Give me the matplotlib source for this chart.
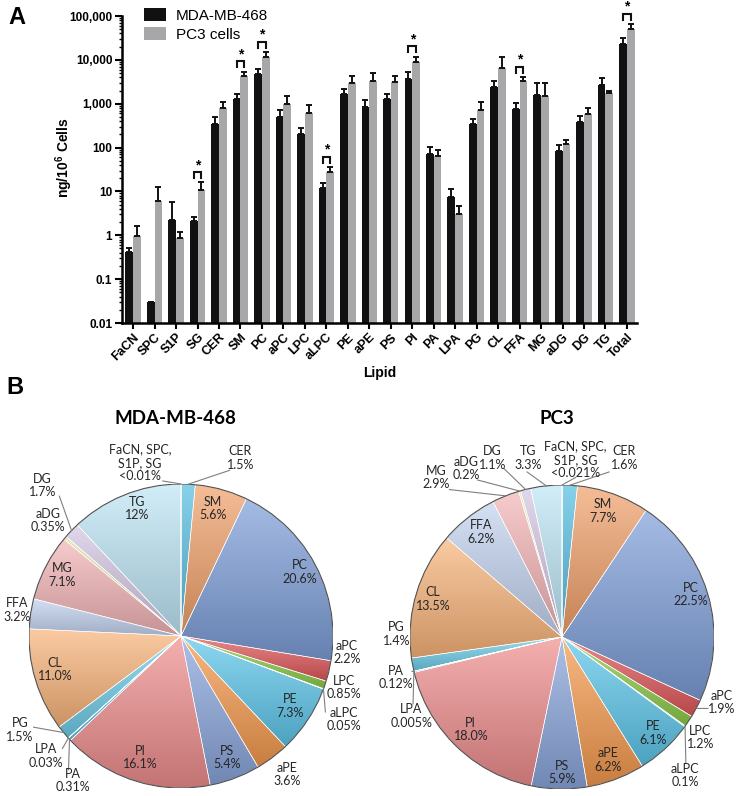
import numpy as np
import matplotlib
matplotlib.use("Agg")
import matplotlib.pyplot as plt
from matplotlib.colors import LinearSegmentedColormap, to_rgb
from matplotlib.ticker import FixedLocator, FixedFormatter, LogLocator, NullFormatter

plt.rcParams['font.family'] = ['Liberation Sans', 'DejaVu Sans']
plt.rcParams['mathtext.fontset'] = 'custom'
plt.rcParams['mathtext.bf'] = 'Liberation Sans:bold'
plt.rcParams['mathtext.rm'] = 'Liberation Sans:bold'

# ---- panel A data (ng / 10^6 cells) ----
lipids = ["FaCN", "SPC", "S1P", "SG", "CER", "SM", "PC", "aPC", "LPC", "aLPC", "PE", "aPE",
          "PS", "PI", "PA", "LPA", "PG", "CL", "FFA", "MG", "aDG", "DG", "TG", "Total"]
mda_vals = [0.41, 0.03, 2.2, 2.1, 350, 1300, 4700, 510, 200, 11.7, 1690, 860,
            1280, 3720, 73, 7.6, 340, 2450, 760, 1620, 83, 380, 2700, 22700]
mda_err = [0.1, 0, 3.4, 0.5, 150, 400, 1500, 195, 85, 4.2, 500, 370,
           410, 1450, 31, 3.9, 115, 850, 275, 1330, 34, 133, 1100, 8300]
pc3_vals = [0.95, 5.9, 0.85, 11, 810, 4300, 11500, 1000, 615, 28, 3030, 3230,
            3050, 9150, 63, 3.0, 725, 6680, 3230, 1470, 123, 572, 1740, 50000]
pc3_err = [0.65, 6.4, 0.32, 5, 300, 1100, 3400, 470, 335, 8, 1300, 1740,
           1150, 2750, 27, 1.6, 395, 5200, 760, 1480, 28, 223, 160, 16000]
star_lipids = ["SG", "SM", "PC", "aLPC", "PI", "FFA", "Total"]

ytick_vals = [0.01, 0.1, 1, 10, 100, 1000, 10000, 100000]
ytick_text = ["0.01", "0.1", "1", "10", "100", "1,000", "10,000", "100,000"]

# ---- panel B data (% of total lipid) ----
pie_names = ["FaCN, SPC,\nS1P, SG", "CER", "SM", "PC", "aPC", "LPC", "aLPC", "PE", "aPE", "PS",
             "PI", "PA", "LPA", "PG", "CL", "FFA", "MG", "aDG", "DG", "TG"]
mda_pct = [0.01, 1.5, 5.6, 20.6, 2.2, 0.85, 0.05, 7.3, 3.6, 5.4,
           16.1, 0.31, 0.03, 1.5, 11.0, 3.2, 7.1, 0.35, 1.7, 12]
mda_pct_text = ["<0.01%", "1.5%", "5.6%", "20.6%", "2.2%", "0.85%", "0.05%", "7.3%", "3.6%", "5.4%",
                "16.1%", "0.31%", "0.03%", "1.5%", "11.0%", "3.2%", "7.1%", "0.35%", "1.7%", "12%"]
pc3_pct = [0.02, 1.6, 7.7, 22.5, 1.9, 1.2, 0.1, 6.1, 6.2, 5.9,
           18.0, 0.12, 0.005, 1.4, 13.5, 6.2, 2.9, 0.2, 1.1, 3.3]
pc3_pct_text = ["<0.021%", "1.6%", "7.7%", "22.5%", "1.9%", "1.2%", "0.1%", "6.1%", "6.2%", "5.9%",
                "18.0%", "0.12%", "0.005%", "1.4%", "13.5%", "6.2%", "2.9%", "0.2%", "1.1%", "3.3%"]

wedge_colors = ["#4bacc6", "#55bde0", "#f0a06a", "#7d9ed8", "#e0585a", "#8ccc4a", "#b9a6d4",
                "#5cc6ea", "#f59a4e", "#8aa6dc", "#ef8d8d", "#5cc6ea", "#9bd15a", "#6fcde9",
                "#f9b47a", "#c3d3ef", "#f3b4b6", "#d5e59a", "#d4c6e3", "#bde5f5"]

# label placement (pie radius units) and leader-line start points
mda_label_pos = {
    "FaCN, SPC,\nS1P, SG": (-0.27, 1.14), "CER": (0.39, 1.17), "SM": (0.21, 0.84),
    "PC": (0.78, 0.42), "aPC": (1.09, -0.11), "LPC": (1.07, -0.34), "aLPC": (1.07, -0.55),
    "PE": (0.72, -0.46), "aPE": (0.70, -0.91), "PS": (0.30, -0.80), "PI": (-0.27, -0.80),
    "PA": (-0.71, -0.95), "LPA": (-0.89, -0.79), "PG": (-1.06, -0.62), "CL": (-0.83, -0.22),
    "FFA": (-1.08, 0.17), "MG": (-0.78, 0.40), "aDG": (-0.875, 0.76), "DG": (-0.91, 0.99),
    "TG": (-0.29, 0.84),
}
mda_leaders = {
    "FaCN, SPC,\nS1P, SG": (-0.12, 1.02), "CER": (0.32, 1.09), "DG": (-0.80, 0.92),
    "aLPC": (0.95, -0.50), "PA": (-0.74, -0.88), "LPA": (-0.78, -0.74), "PG": (-0.97, -0.60),
}
pc3_label_pos = {
    "FaCN, SPC,\nS1P, SG": (0.09, 1.166), "CER": (0.41, 1.179), "SM": (0.27, 0.83),
    "PC": (0.85, 0.28), "aPC": (1.05, -0.43), "LPC": (0.91, -0.66), "aLPC": (0.81, -0.91),
    "PE": (0.60, -0.63), "aPE": (0.30, -0.81), "PS": (0.0, -0.89), "PI": (-0.60, -0.61),
    "PA": (-1.09, -0.265), "LPA": (-0.99, -0.52), "PG": (-1.09, 0.02), "CL": (-0.85, 0.25),
    "FFA": (-0.53, 0.69), "MG": (-0.83, 1.05), "aDG": (-0.63, 1.11), "DG": (-0.457, 1.179),
    "TG": (-0.225, 1.179),
}
pc3_leaders = {
    "FaCN, SPC,\nS1P, SG": (0.09, 1.05), "CER": (0.31, 1.086), "TG": (-0.23, 1.086),
    "DG": (-0.38, 1.106), "aDG": (-0.556, 1.033), "MG": (-0.74, 0.97),
    "PA": (-0.987, -0.225), "LPA": (-0.98, -0.44), "aPC": (0.96, -0.47), "aLPC": (0.815, -0.83),
}

W, H = 737, 796
fig = plt.figure(figsize=(W / 100, H / 100), dpi=100)

# ================= panel A =================
ax = fig.add_axes([122 / W, 1 - 323 / H, 515 / W, 307 / H])
x = np.arange(len(lipids))
bw = 0.36
ax.bar(x - bw / 2, mda_vals, bw, color="#111111", label="MDA-MB-468",
       yerr=[np.zeros(len(x)), mda_err], error_kw=dict(ecolor="#111111", elinewidth=1.4, capsize=2.2, capthick=1.4))
ax.bar(x + bw / 2, pc3_vals, bw, color="#a7a7a9", label="PC3 cells",
       yerr=[np.zeros(len(x)), pc3_err], error_kw=dict(ecolor="#111111", elinewidth=1.4, capsize=2.2, capthick=1.4))

ax.set_yscale("log")
ax.set_ylim(0.01, 100000)
ax.set_xlim(-0.52, len(lipids) - 0.53)
ax.yaxis.set_major_locator(FixedLocator(ytick_vals))
ax.yaxis.set_major_formatter(FixedFormatter(ytick_text))
ax.yaxis.set_minor_locator(LogLocator(base=10, subs=np.arange(2, 10)))
ax.yaxis.set_minor_formatter(NullFormatter())
ax.set_xticks(x)
ax.set_xticklabels(lipids, rotation=45, ha="right", rotation_mode="anchor", fontweight="bold", fontsize=9)
for lab in ax.get_yticklabels():
    lab.set_fontweight("bold")
ax.tick_params(axis="y", which="major", length=5, width=1.5, labelsize=8.5, pad=2)
ax.tick_params(axis="y", which="minor", length=2.5, width=1.0)
ax.tick_params(axis="x", length=4, width=1.5, pad=2)
for s in ["top", "right"]:
    ax.spines[s].set_visible(False)
for s in ["left", "bottom"]:
    ax.spines[s].set_linewidth(1.8)

ax.set_ylabel(r"ng/10$^{\mathbf{6}}$ Cells", fontweight="bold", fontsize=10)
ax.yaxis.set_label_coords(-0.092, 0.54)
ax.set_xlabel("Lipid", fontweight="bold", fontsize=10)
ax.xaxis.set_label_coords(0.5, -0.14)

ax.legend(loc="upper left", bbox_to_anchor=(0.03, 1.045), frameon=False, fontsize=11,
          handlelength=1.5, handleheight=0.9, handletextpad=0.6, labelspacing=0.3, borderaxespad=0)

# significance brackets
for name in star_lipids:
    i = lipids.index(name)
    top = max(mda_vals[i] + mda_err[i], pc3_vals[i] + pc3_err[i])
    yb = top * 1.7
    ax.plot([i - bw / 2, i - bw / 2, i + bw / 2, i + bw / 2], [yb / 1.35, yb, yb, yb / 1.35],
            color="#111111", lw=1.5, solid_joinstyle="miter", clip_on=False)
    ax.text(i, yb * 1.02, "*", ha="center", va="bottom", fontsize=10, fontweight="bold")

fig.text(8 / W, 1 - 17 / H, "A", fontsize=17, fontweight="bold", va="center")
fig.text(6 / W, 1 - 388 / H, "B", fontsize=17, fontweight="bold", va="center")


# ================= panel B =================
def shade(pax, wedges, colors):
    for w, c in zip(wedges, colors):
        rgb = np.array(to_rgb(c))
        light = rgb + (1 - rgb) * 0.3
        dark = rgb * 0.82
        cmap = LinearSegmentedColormap.from_list("g", [dark, light])
        ext = w.get_path().get_extents()
        im = pax.imshow(np.linspace(0, 1, 64).reshape(-1, 1), cmap=cmap, origin="lower",
                        extent=[ext.x0, ext.x1, ext.y0, ext.y1], aspect="auto", zorder=1,
                        interpolation="bilinear")
        im.set_clip_path(w)
        w.set_facecolor("none")
        w.set_zorder(2)


def draw_pie(rect, pct, pct_text, label_pos, leaders):
    pax = fig.add_axes(rect)
    wedges, _ = pax.pie(pct, colors=wedge_colors, startangle=90, counterclock=False, radius=1,
                        wedgeprops=dict(edgecolor="white", linewidth=0.4))
    shade(pax, wedges, wedge_colors)
    pax.add_patch(plt.Circle((0, 0), 1, fill=False, ec="#505050", lw=0.8, zorder=3))
    for name, txt, w in zip(pie_names, pct_text, wedges):
        lx, ly = label_pos[name]
        pax.text(lx, ly, name + "\n" + txt, ha="center", va="center", fontsize=9,
                 family=["Lato", "DejaVu Sans"], linespacing=1.15, color="#262626", zorder=5)
        if name in leaders:
            mid = np.deg2rad((w.theta1 + w.theta2) / 2)
            sx, sy = leaders[name]
            pax.plot([sx, np.cos(mid)], [sy, np.sin(mid)], color="#7f7f7f", lw=0.8, zorder=4,
                     clip_on=False)
    pax.set_xlim(-1, 1)
    pax.set_ylim(-1, 1)
    pax.set_aspect("equal")
    pax.axis("off")
    return pax


draw_pie([29 / W, 8 / H, 304 / W, 304 / H], mda_pct, mda_pct_text, mda_label_pos, mda_leaders)
draw_pie([410 / W, 7 / H, 304 / W, 304 / H], pc3_pct, pc3_pct_text, pc3_label_pos, pc3_leaders)

fig.text(175 / W, 1 - 418 / H, "MDA-MB-468", ha="center", va="center", fontsize=13.5,
         fontweight="bold", family=["Lato", "DejaVu Sans"])
fig.text(557 / W, 1 - 418 / H, "PC3", ha="center", va="center", fontsize=13.5,
         fontweight="bold", family=["Lato", "DejaVu Sans"])

fig.savefig("out.png", dpi=100)
